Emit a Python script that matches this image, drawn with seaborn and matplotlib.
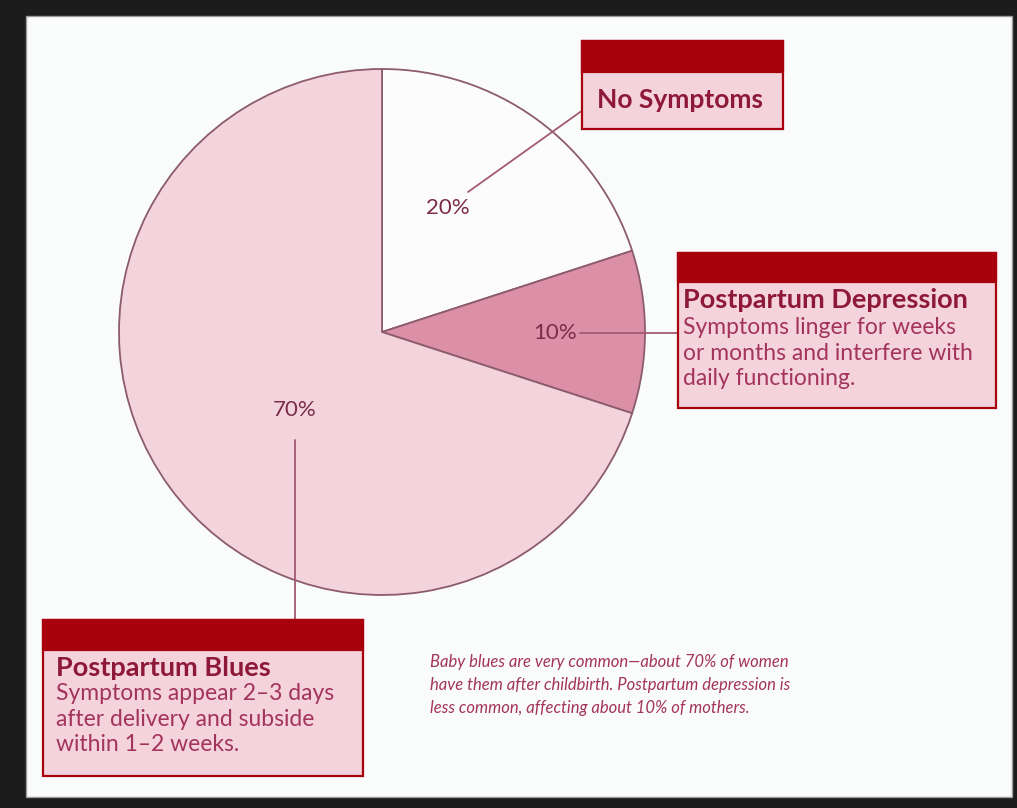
import matplotlib.pyplot as plt
import seaborn as sns
from matplotlib.patches import Rectangle

# data
categories = ["No Symptoms", "Postpartum Depression", "Postpartum Blues"]
shares = [20, 10, 70]
pct_labels = ["20%", "10%", "70%"]
descriptions = [
    "",
    "Symptoms linger for weeks\nor months and interfere with\ndaily functioning.",
    "Symptoms appear 2\u20133 days\nafter delivery and subside\nwithin 1\u20132 weeks.",
]
caption = ("Baby blues are very common\u2014about 70% of women\n"
           "have them after childbirth. Postpartum depression is\n"
           "less common, affecting about 10% of mothers.")

slice_colors = ["#fdfcfd", "#dc90a7", "#f4d4dc"]
dark_red = "#a8000c"
box_fill = "#f4d3dc"
title_color = "#8e1838"
body_color = "#a3345a"
line_color = "#a25a72"

sns.set_theme(style="white")
plt.rcParams["font.family"] = ["Lato", "DejaVu Sans"]

W, H = 1017, 808
fig = plt.figure(figsize=(W / 100, H / 100), dpi=100, facecolor="#1c1c1c")
ax = fig.add_axes([0, 0, 1, 1])


def Y(y):
    # pixel row -> data y
    return H - y


# pie
cx, cy, r = 382, 332, 263
ax.pie(shares, colors=slice_colors, startangle=90, counterclock=False,
       center=(cx, Y(cy)), radius=r, frame=True,
       wedgeprops=dict(edgecolor="#8c5c6c", linewidth=1.3))
ax.set_xlim(0, W)
ax.set_ylim(0, H)
ax.set_aspect("equal")
ax.axis("off")

# page
ax.add_patch(Rectangle((26, Y(797)), 1012 - 26, 797 - 16, facecolor="#fafbfb",
                       edgecolor="#9a9a9a", lw=1, zorder=-1))

# percent labels
pct_pos = [(448, 208), (555, 333), (295, 410)]
for lab, (px, py) in zip(pct_labels, pct_pos):
    ax.text(px, Y(py), lab, ha="center", va="center", fontsize=16,
            color="#7a2c48", zorder=5)

# connector lines
ax.plot([468, 583], [Y(192), Y(110)], color=line_color, lw=1.3, zorder=4)
ax.plot([580, 678], [Y(333), Y(333)], color=line_color, lw=1.3, zorder=4)
ax.plot([295, 295], [Y(440), Y(620)], color=line_color, lw=1.3, zorder=4)

# label boxes: (x0, y0, x1, y1, header bottom)
boxes = [
    (582, 41, 783, 129, 72),
    (678, 253, 996, 408, 282),
    (43, 620, 363, 776, 650),
]
for (x0, y0, x1, y1, hb) in boxes:
    ax.add_patch(Rectangle((x0, Y(y1)), x1 - x0, y1 - y0, facecolor=box_fill,
                           edgecolor=dark_red, lw=1.6, zorder=6))
    ax.add_patch(Rectangle((x0, Y(hb)), x1 - x0, hb - y0, facecolor=dark_red,
                           edgecolor=dark_red, lw=1.6, zorder=7))

# No Symptoms
ax.text(597, Y(100), categories[0], ha="left", va="center", fontsize=19,
        fontweight="bold", color=title_color, zorder=8)

# Postpartum Depression
ax.text(683, Y(300), categories[1], ha="left", va="center", fontsize=19.5,
        fontweight="bold", color=title_color, zorder=8)
ax.text(683, Y(353), descriptions[1], ha="left", va="center", fontsize=16.5,
        color=body_color, linespacing=1.27, zorder=8)

# Postpartum Blues
ax.text(56, Y(668), categories[2], ha="left", va="center", fontsize=19.5,
        fontweight="bold", color=title_color, zorder=8)
ax.text(56, Y(719), descriptions[2], ha="left", va="center", fontsize=16.5,
        color=body_color, linespacing=1.25, zorder=8)

# caption
ax.text(430, Y(685), caption, ha="left", va="center", fontsize=12,
        style="italic", color=body_color, linespacing=1.55, zorder=8)

fig.savefig("out.png", dpi=100, facecolor=fig.get_facecolor())
